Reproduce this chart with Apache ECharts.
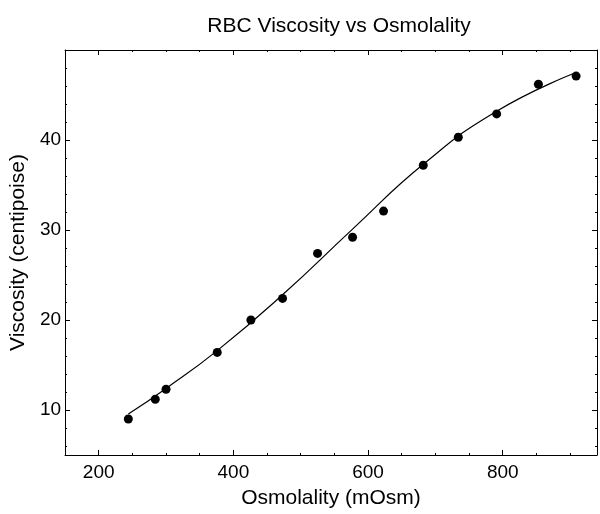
<!DOCTYPE html>
<html>
<head>
<meta charset="utf-8">
<script src="https://cdn.jsdelivr.net/npm/echarts@6/dist/echarts.min.js"></script>
<style>html,body{margin:0;padding:0;background:#fff;}#c{width:600px;height:514px;}</style>
</head>
<body>
<div id="c"></div>
<script>
// Measured data points
const osmolality = [244, 284, 300, 376, 426, 473, 525, 577, 623, 682, 734, 791, 853, 909];
const viscosity  = [9.0, 11.2, 12.3, 16.4, 20.0, 22.4, 27.4, 29.2, 32.1, 37.2, 40.3, 42.9, 46.2, 47.1];
// Fitted curve
const fitX = [244, 300, 376, 473, 577, 682, 791, 909];
const fitY = [9.55, 12.4, 16.6, 22.8, 30.1, 37.3, 43.2, 47.5];
// Ticks
const xMajorTicks = [200, 400, 600, 800];
const xMinorTicks = [200, 250, 300, 350, 400, 450, 500, 550, 600, 650, 700, 750, 800, 850, 900];
const yMajorTicks = [10, 20, 30, 40];
const yMinorTicks = [6, 8, 10, 12, 14, 16, 18, 20, 22, 24, 26, 28, 30, 32, 34, 36, 38, 40, 42, 44, 46, 48];

const FONT = 'Liberation Sans';
const chart = echarts.init(document.getElementById('c'), null, {renderer: 'canvas'});

function xAx(pos, ticks, len, labels, line) {
  return {
    type: 'value', position: pos, min: 150, max: 940,
    axisLine: {show: line, onZero: false, lineStyle: {color: '#000', width: 1}},
    axisTick: {show: true, inside: true, length: len, customValues: ticks, lineStyle: {color: '#000', width: 1}},
    axisLabel: labels ? {show: true, customValues: xMajorTicks, color: '#000', fontFamily: FONT, fontSize: 19, margin: 8} : {show: false},
    splitLine: {show: false},
    name: labels ? 'Osmolality (mOsm)' : '',
    nameLocation: 'middle', nameGap: 33,
    nameTextStyle: {color: '#000', fontFamily: FONT, fontSize: 21}
  };
}
function yAx(pos, ticks, len, labels, line) {
  return {
    type: 'value', position: pos, min: 5, max: 50,
    axisLine: {show: line, onZero: false, lineStyle: {color: '#000', width: 1}},
    axisTick: {show: true, inside: true, length: len, customValues: ticks, lineStyle: {color: '#000', width: 1}},
    axisLabel: labels ? {show: true, customValues: yMajorTicks, color: '#000', fontFamily: FONT, fontSize: 19, margin: 4} : {show: false},
    splitLine: {show: false},
    name: labels ? 'Viscosity (centipoise)' : '',
    nameLocation: 'middle', nameGap: 25,
    nameTextStyle: {color: '#000', fontFamily: FONT, fontSize: 21}
  };
}

chart.setOption({
  animation: false,
  backgroundColor: '#fff',
  title: {
    text: 'RBC Viscosity vs Osmolality',
    left: 334, top: 11, textAlign: 'center',
    textStyle: {color: '#000', fontFamily: FONT, fontSize: 21, fontWeight: 'normal'}
  },
  grid: {left: 61, right: 3, top: 50, bottom: 58, containLabel: false},
  xAxis: [
    xAx('bottom', xMinorTicks, 2, true, true),
    xAx('bottom', xMajorTicks, 5, false, false),
    xAx('top', xMinorTicks, 2, false, true),
    xAx('top', xMajorTicks, 5, false, false)
  ],
  yAxis: [
    yAx('left', yMinorTicks, 2, true, true),
    yAx('left', yMajorTicks, 5, false, false),
    yAx('right', yMinorTicks, 2, false, true),
    yAx('right', yMajorTicks, 5, false, false)
  ],
  series: [
    {
      type: 'line', xAxisIndex: 0, yAxisIndex: 0,
      data: fitX.map((x, i) => [x, fitY[i]]),
      smooth: 0.5, showSymbol: false, symbol: 'none',
      lineStyle: {color: '#000', width: 1.2}
    },
    {
      type: 'scatter', xAxisIndex: 0, yAxisIndex: 0,
      data: osmolality.map((x, i) => [x, viscosity[i]]),
      symbol: 'circle', symbolSize: 9,
      itemStyle: {color: '#000', opacity: 1}
    }
  ]
});
</script>
</body>
</html>
